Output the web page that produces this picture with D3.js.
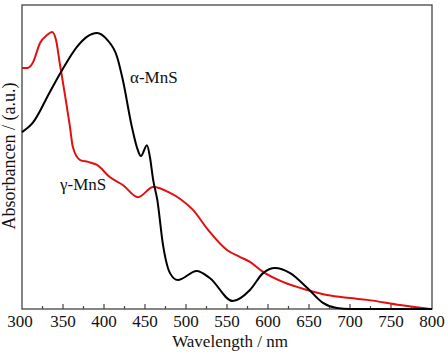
<!DOCTYPE html>
<html><head><meta charset="utf-8">
<script src="https://cdn.jsdelivr.net/npm/d3@7"></script>
<style>body{margin:0;background:#fff}svg{display:block}</style>
</head><body>
<script>
const alphaWavelength = [300,313,334,349,367,379,391.5,404,416,423,434,440,445,452.4,456,460,465,472,480.5,490,513,529,557,578,594,608.5,627,648,667,684,700,800];
const alphaAbs = [0.582,0.612,0.714,0.786,0.862,0.895,0.908,0.885,0.829,0.753,0.599,0.533,0.503,0.539,0.5,0.424,0.359,0.21,0.118,0.095,0.125,0.102,0.026,0.0625,0.118,0.135,0.118,0.069,0.02,0.003,0,0];
const gammaWavelength = [300,307,313,322,330.5,336.6,341.5,346,352,358.5,362,371,380.5,391.5,407,423,441.5,460,480.5,493,508.5,527,550,566,578,594,618,648,672,700,721,761,798];
const gammaAbs = [0.793,0.793,0.809,0.875,0.901,0.911,0.885,0.809,0.711,0.599,0.533,0.49,0.484,0.474,0.434,0.408,0.368,0.401,0.382,0.362,0.326,0.26,0.194,0.171,0.155,0.122,0.089,0.0625,0.046,0.036,0.03,0.013,0];
const xTicks = [300,350,400,450,500,550,600,650,700,750,800];
const seriesLabels = ["\u03b1-MnS","\u03b3-MnS"];

const W=448,H=355;
const L=22,R=432,T=5,B=309;
const FF='"Liberation Serif"';
const svg=d3.select("body").append("svg").attr("width",W).attr("height",H);
const x=d3.scaleLinear().domain([300,800]).range([L,R]);
const y=d3.scaleLinear().domain([0,1]).range([B,T]);

svg.append("rect").attr("x",L).attr("y",T).attr("width",R-L).attr("height",B-T)
  .attr("fill","none").attr("stroke","#444").attr("stroke-width",1.3);

const minor=d3.range(325,800,50);
const g=svg.append("g");
g.selectAll("line.maj").data(xTicks.slice(1,-1)).join("line")
  .attr("x1",d=>x(d)).attr("x2",d=>x(d)).attr("y1",B).attr("y2",B-5)
  .attr("stroke","#444").attr("stroke-width",1.2);
g.selectAll("line.min").data(minor).join("line")
  .attr("x1",d=>x(d)).attr("x2",d=>x(d)).attr("y1",B).attr("y2",B-3)
  .attr("stroke","#444").attr("stroke-width",1.2);
g.selectAll("text").data(xTicks).join("text")
  .attr("x",d=>x(d)-(d===300?2:0)).attr("y",327).attr("text-anchor","middle")
  .style("font-family",FF).style("font-size","17px").attr("fill","#111").text(d=>d);

svg.append("text").attr("x",(L+R)/2+3).attr("y",347).attr("text-anchor","middle")
  .style("font-family",FF).style("font-size","17px").attr("fill","#111").text("Wavelength / nm");
svg.append("text").attr("transform","translate(15,156) rotate(-90)").attr("text-anchor","middle")
  .style("font-family",FF).style("font-size","18px").attr("fill","#111").text("Absorbancen / (a.u.)");

const line=d3.line().x(d=>x(d[0])).y(d=>y(d[1])).curve(d3.curveMonotoneX);
svg.append("path").datum(gammaWavelength.map((w,i)=>[w,gammaAbs[i]]))
  .attr("d",line).attr("fill","none").attr("stroke","#e01010").attr("stroke-width",2);
svg.append("path").datum(alphaWavelength.map((w,i)=>[w,alphaAbs[i]]))
  .attr("d",line).attr("fill","none").attr("stroke","#000").attr("stroke-width",2);

svg.append("text").attr("x",130).attr("y",83).style("font-family",FF).style("font-size","17px").attr("fill","#111").text(seriesLabels[0]);
svg.append("text").attr("x",60).attr("y",190).style("font-family",FF).style("font-size","17px").attr("fill","#111").text(seriesLabels[1]);
</script>
</body></html>
